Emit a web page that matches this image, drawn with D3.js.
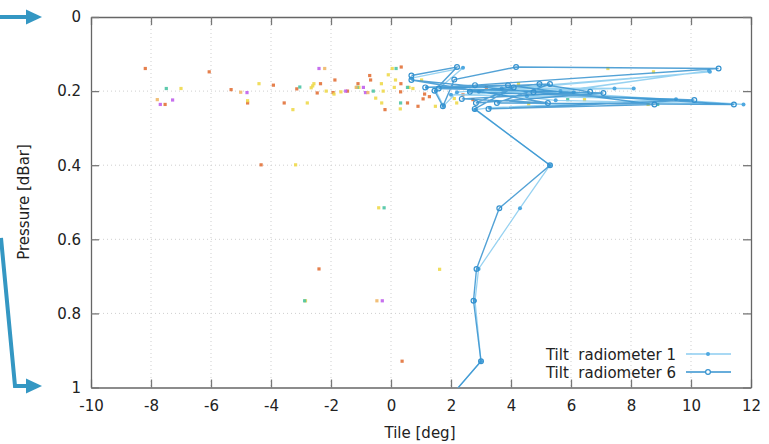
<!DOCTYPE html>
<html>
<head>
<meta charset="utf-8">
<script src="https://cdn.jsdelivr.net/npm/d3@7"></script>
<style>
body { margin: 0; background: #fff; }
text { font-family: "DejaVu Sans", sans-serif; fill: #222; white-space: pre; }
</style>
</head>
<body>
<div id="chart"></div>
<script>
var w = 769;
var h = 444;

// tilt [deg], pressure [dBar]
var rad1 = [[0.68,0.165],[2.4,0.137],[1.5,0.2],[1.75,0.24],[2.2,0.203],[10.63,0.148],[2.93,0.202],[7.45,0.193],
  [1.2,0.19],[8.09,0.193],[3.69,0.193],[11.75,0.236],[5.49,0.225],[2.6,0.2],[6.09,0.203],[4.53,0.214],
  [10.6,0.145],[5.65,0.2],[2.0,0.21],[9.5,0.222],[3.3,0.245],[2.8,0.25],[5.3,0.40],[4.3,0.516],
  [2.92,0.68],[2.8,0.766],[3.0,0.929],[1.5,1.07]];
var rad6 = [[0.68,0.158],[2.2,0.135],[1.45,0.199],[1.73,0.241],[2.11,0.169],[4.17,0.135],[10.92,0.139],[2.8,0.184],
  [1.14,0.19],[3.9,0.184],[8.78,0.236],[3.25,0.248],[10.11,0.224],[2.63,0.202],[4.95,0.181],[6.64,0.202],
  [2.36,0.221],[5.23,0.232],[0.68,0.17],[4.75,0.203],[11.43,0.236],[3.53,0.232],[5.30,0.181],[1.59,0.193],
  [7.08,0.205],[2.83,0.232],[4.09,0.19],[2.79,0.248],[5.3,0.40],[3.61,0.516],[2.85,0.68],[2.75,0.766],
  [3.0,0.929],[1.5,1.07]];

var dotsRed = [[-8.19,0.139],[-7.53,0.236],[-6.06,0.148],[-5.33,0.196],[-4.78,0.232],[-3.92,0.184],[-4.33,0.399],
  [-3.56,0.232],[-3.14,0.194],[-2.46,0.205],[-2.35,0.180],[-1.87,0.170],[-1.93,0.204],[-1.45,0.200],[-1.10,0.180],
  [-0.71,0.158],[-0.68,0.170],[-0.2,0.250],[0.34,0.135],[0.33,0.180],[0.32,0.202],[0.55,0.232],[0.90,0.241],
  [1.12,0.208],[1.07,0.221],[1.28,0.215],[2.73,0.223],[3.18,0.19],[2.40,0.21],[-2.40,0.68],[0.37,0.929]];
var dotsYellow = [[-7.0,0.193],[-4.78,0.226],[-4.40,0.180],[-3.18,0.399],[-3.27,0.250],[-2.79,0.232],[-2.66,0.191],
  [-2.61,0.186],[-2.57,0.180],[-2.16,0.200],[-1.90,0.208],[-1.67,0.202],[-1.07,0.19],[-0.51,0.219],[-0.32,0.180],
  [-0.26,0.200],[-0.31,0.232],[-0.09,0.156],[0.04,0.139],[0.11,0.19],[0.15,0.17],[0.31,0.248],[0.73,0.193],
  [1.02,0.170],[1.48,0.241],[2.11,0.22],[2.19,0.232],[7.23,0.139],[8.75,0.148],[6.45,0.223],[8.57,0.236],
  [4.59,0.19],[4.25,0.18],[4.59,0.235],[-0.41,0.515],[-2.85,0.766],[1.62,0.681],[0.6,0.19]];
var dotsTeal = [[-7.49,0.193],[-3.04,0.189],[-1.13,0.19],[-0.59,0.200],[0.17,0.139],[0.32,0.232],[0.55,0.19],
  [5.89,0.223],[8.89,0.236],[-0.23,0.515],[-2.88,0.766]];
var dotsPurple = [[-7.69,0.236],[-7.28,0.224],[-4.80,0.204],[-2.40,0.139],[-1.51,0.200],[-0.92,0.19],[-0.85,0.204],
  [-0.29,0.766]];
var dotsOrange = [[-7.79,0.223],[-5.01,0.203],[-2.21,0.139],[-1.16,0.19],[-0.77,0.204],[-0.47,0.766]];

var xTicks = [-10,-8,-6,-4,-2,0,2,4,6,8,10,12];
var yTicks = [0,0.2,0.4,0.6,0.8,1];
var legendNames = ["Tilt  radiometer 1", "Tilt  radiometer 6"];

var svg = d3.select("#chart").append("svg").attr("width",w).attr("height",h);

var x = d3.scaleLinear().domain([-10,12]).range([91,751]);
var y = d3.scaleLinear().domain([0,1]).range([17,387.5]);

// grid
svg.selectAll("line.gx").data(xTicks.slice(1,-1)).enter().append("line")
  .attr("x1",d=>x(d)).attr("x2",d=>x(d)).attr("y1",y(0)).attr("y2",y(1))
  .attr("stroke","#cfcfcf").attr("stroke-dasharray","1,3");
svg.selectAll("line.gy").data(yTicks.slice(1,-1)).enter().append("line")
  .attr("x1",x(-10)).attr("x2",x(12)).attr("y1",d=>y(d)).attr("y2",d=>y(d))
  .attr("stroke","#cfcfcf").attr("stroke-dasharray","1,3");

// axes
var fmt = function(d){ return String(d); };
function styleAxis(g){
  g.selectAll("path").attr("stroke","#666").attr("stroke-width",1.3);
  g.selectAll("line").attr("stroke","#777").attr("stroke-width",1.3);
  g.selectAll("text").attr("font-size","15px").attr("fill","#222").attr("font-family","DejaVu Sans, sans-serif");
}
svg.append("g").attr("transform","translate(0,"+y(1)+")")
  .call(d3.axisBottom(x).tickValues(xTicks).tickSize(-8).tickSizeOuter(0).tickPadding(13).tickFormat(fmt)).call(styleAxis);
svg.append("g").attr("transform","translate(0,"+y(0)+")")
  .call(d3.axisTop(x).tickValues(xTicks).tickSize(-8).tickSizeOuter(0).tickFormat("")).call(styleAxis);
svg.append("g").attr("transform","translate("+x(-10)+",0)")
  .call(d3.axisLeft(y).tickValues(yTicks).tickSize(-8).tickSizeOuter(0).tickPadding(10).tickFormat(fmt)).call(styleAxis);
svg.append("g").attr("transform","translate("+x(12)+",0)")
  .call(d3.axisRight(y).tickValues(yTicks).tickSize(-8).tickSizeOuter(0).tickFormat("")).call(styleAxis);

// axis titles
svg.append("text").attr("x",420).attr("y",438).attr("text-anchor","middle").attr("font-size","15px").text("Tile [deg]");
svg.append("text").attr("transform","translate(29,202) rotate(-90)").attr("text-anchor","middle")
  .attr("font-size","15px").text("Pressure [dBar]");

// scattered points
var dotSets = [[dotsRed,"#e2723a"],[dotsYellow,"#eed94c"],[dotsTeal,"#4cc4a4"],[dotsPurple,"#c060ec"],[dotsOrange,"#f0b868"]];
dotSets.forEach(function(s){
  svg.append("g").selectAll("rect").data(s[0]).enter().append("rect")
    .attr("x",d=>x(d[0])-1.6).attr("y",d=>y(d[1])-1.6)
    .attr("width",3.2).attr("height",3.2)
    .attr("fill",s[1]).attr("opacity",0.9);
});

// lines
svg.append("clipPath").attr("id","clip").append("rect")
  .attr("x",x(-10)).attr("y",y(0)).attr("width",x(12)-x(-10)).attr("height",y(1)-y(0));
var line = d3.line().x(d=>x(d[0])).y(d=>y(d[1]));
var plot = svg.append("g").attr("clip-path","url(#clip)");

plot.append("path").datum(rad1).attr("d",line).attr("fill","none")
  .attr("stroke","#8ccdf0").attr("stroke-width",1.3).attr("stroke-opacity",0.9);
plot.selectAll("circle.r1").data(rad1).enter().append("circle")
  .attr("cx",d=>x(d[0])).attr("cy",d=>y(d[1])).attr("r",2)
  .attr("fill","#4fa8e0");

plot.append("path").datum(rad6).attr("d",line).attr("fill","none")
  .attr("stroke","#3592cf").attr("stroke-width",1.4).attr("stroke-opacity",0.85);
plot.selectAll("circle.r6").data(rad6).enter().append("circle")
  .attr("cx",d=>x(d[0])).attr("cy",d=>y(d[1])).attr("r",2.4)
  .attr("fill","none").attr("stroke","#3592cf").attr("stroke-width",1.2);

// legend
var leg = svg.append("g");
legendNames.forEach(function(name,i){
  var ly = 354 + i*18;
  leg.append("text").attr("x",676).attr("y",ly+5.5).attr("text-anchor","end").attr("font-size","15px").text(name);
  leg.append("line").attr("x1",686).attr("x2",731).attr("y1",ly).attr("y2",ly)
    .attr("stroke",i==0 ? "#8ccdf0" : "#3592cf").attr("stroke-width",1.3);
  if(i==0){
    leg.append("circle").attr("cx",708).attr("cy",ly).attr("r",2).attr("fill","#4fa8e0");
  } else {
    leg.append("circle").attr("cx",708).attr("cy",ly).attr("r",2.4).attr("fill","#fff")
      .attr("stroke","#3592cf").attr("stroke-width",1.2);
  }
});

// annotation arrows on the left
var arrowColor = "#3497c3";
svg.append("line").attr("x1",0).attr("x2",28).attr("y1",17).attr("y2",17)
  .attr("stroke",arrowColor).attr("stroke-width",4);
svg.append("path").attr("d","M26,9.5 L42,17 L26,24.5 Z").attr("fill",arrowColor);
svg.append("path").attr("d","M1,238 L15,386 L28,386").attr("fill","none")
  .attr("stroke",arrowColor).attr("stroke-width",4).attr("stroke-linejoin","miter");
svg.append("path").attr("d","M26,378.5 L42,386 L26,393.5 Z").attr("fill",arrowColor);
</script>
</body>
</html>
